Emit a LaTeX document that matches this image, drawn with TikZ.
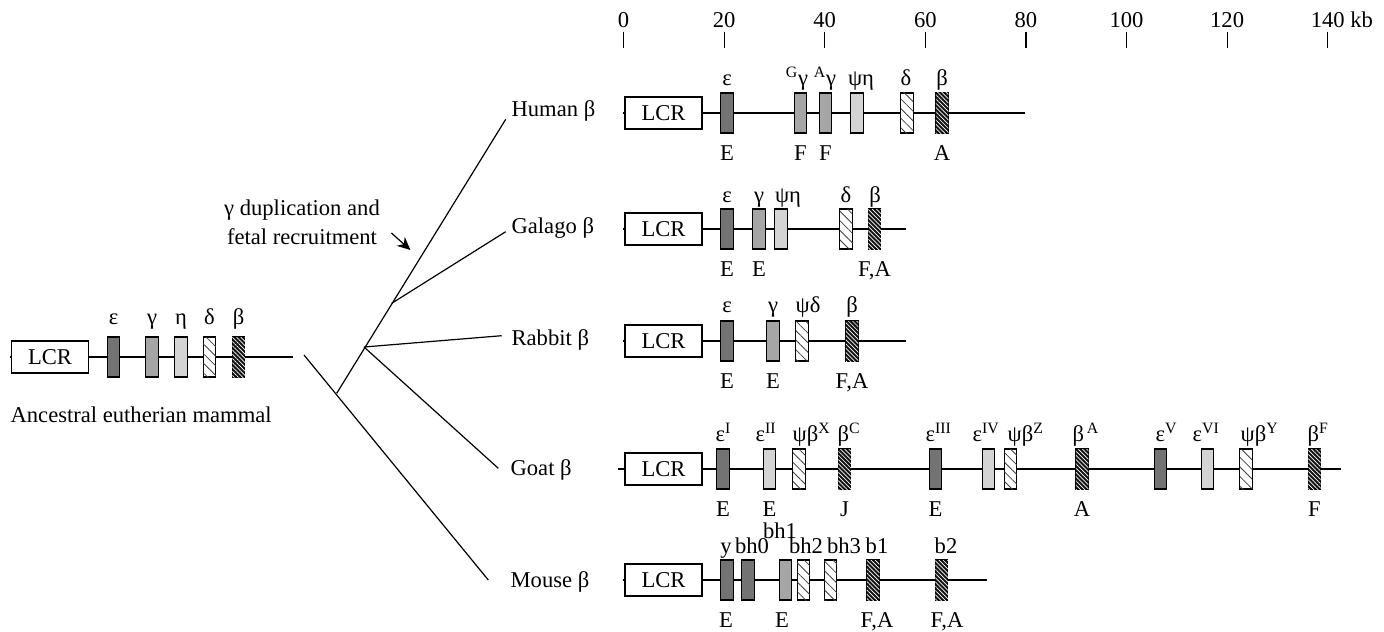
\documentclass[tikz,border=0pt]{standalone}
\usepackage{fontspec}
\setmainfont{Liberation Serif}
\usetikzlibrary{arrows.meta,patterns.meta}

\tikzset{
  gene/.style={draw, minimum width=6.25pt, minimum height=20pt, inner sep=0pt},
  dk/.style={gene, fill=black!55},
  md/.style={gene, fill=black!35},
  lt/.style={gene, fill=black!17},
  hat/.style={gene, fill=white, postaction={pattern={Lines[angle=-45,distance=3.4pt,line width=0.4pt]}, pattern color=black!75}},
  bt/.style={gene, fill=black!92, postaction={pattern={Lines[angle=-45,distance=1.5pt,line width=0.35pt]}, pattern color=white}},
  lcr/.style={draw, fill=white, minimum width=38.5pt, minimum height=16pt, inner sep=0pt},
  tl/.style={anchor=base, inner sep=0pt},
  tw/.style={anchor=base west, inner sep=0pt},
  sp/.style={anchor=base west, inner sep=0pt},
}

\begin{document}
\begin{tikzpicture}[x=0.5pt,y=-0.5pt,font=\fontsize{11.3}{14.5}\selectfont,line width=0.6pt]
\useasboundingbox (0,0) rectangle (1384,631);
% Scale
\foreach \k in {0,20,...,120} {
    \draw ({623.5+5.03*\k},32) -- ({623.5+5.03*\k},48);
    \node[tl] (k\k) at ({623.5+5.03*\k},28) {\k};
}
\draw ({623.5+5.03*140},32) -- ({623.5+5.03*140},48);
\node[tl] (k140) at ({623.5+5.03*140},28) {140\rlap{ kb}};

% Ancestral
\coordinate (as) at (10,357);
\coordinate (ae) at (293,357);
\draw (as) -- (ae);
\node[lcr] (alcr) at (50,357) {LCR};
\foreach \x/\s/\t [count=\i] in {113.5/dk/ε, 152/md/γ, 181/lt/η, 209.5/hat/δ, 238.5/bt/β} {
    \node[\s] (a\i) at (\x,357) {};
    \node[tl] (at\i) at (\x,324) {\t};
}
\node[sp] (anc) at (10,422) {Ancestral eutherian mammal};

% Human
\coordinate (hs) at (623,113);
\coordinate (he) at (1025,113);
\draw (hs) -- (he);
\node[lcr] (hlcr) at (663.5,113) {LCR};
\foreach \x/\s [count=\i] in {727/dk, 800.5/md, 825.5/md, 857/lt, 907/hat, 942/bt}
    \node[\s] (h\i) at (\x,113) {};
\foreach \x/\t [count=\i] in {727/ε, 797/\textsuperscript{G}γ, 825/\textsuperscript{A}γ, 861/ψη, 906/δ, 942/β}
    \node[tl] (ht\i) at (\x,85) {\t};
\foreach \i/\b in {1/E, 2/F, 3/F, 6/A}
    \path (h\i.center) ++(0,47) node[tl] (hb\i) {\b};

% Galago
\coordinate (gs) at (623,229);
\coordinate (ge) at (906,229);
\draw (gs) -- (ge);
\node[lcr] (glcr) at (663.5,229) {LCR};
\foreach \x/\s [count=\i] in {727/dk, 759/md, 781/lt, 846/hat, 874.5/bt}
    \node[\s] (g\i) at (\x,229) {};
\foreach \x/\t [count=\i] in {727/ε, 759/γ, 788/ψη, 846/δ, 875/β}
    \node[tl] (gt\i) at (\x,202) {\t};
\foreach \i/\b in {1/E, 2/E, 5/{F,A}}
    \path (g\i.center) ++(0,47) node[tl] (gb\i) {\b};

% Rabbit
\coordinate (rs) at (623,341);
\coordinate (re) at (906,341);
\draw (rs) -- (re);
\node[lcr] (rlcr) at (663.5,341) {LCR};
\foreach \x/\s [count=\i] in {727/dk, 773/md, 802/hat, 852/bt}
    \node[\s] (r\i) at (\x,341) {};
\foreach \x/\t [count=\i] in {727/ε, 773/γ, 808/ψδ, 852/β}
    \node[tl] (rt\i) at (\x,312) {\t};
\foreach \i/\b in {1/E, 2/E, 4/{F,A}}
    \path (r\i.center) ++(0,47) node[tl] (rb\i) {\b};

% Goat
\coordinate (os) at (618,469);
\coordinate (oe) at (1341,469);
\draw (os) -- (oe);
\node[lcr] (olcr) at (663.5,469) {LCR};
\foreach \x/\s [count=\i] in {723/dk, 769.5/lt, 799/hat, 844.5/bt, 935.5/dk, 988.5/lt,
        1010.5/hat, 1082/bt, 1160.5/dk, 1207.5/lt, 1246/hat, 1314.5/bt}
    \node[\s] (o\i) at (\x,469) {};
\foreach \x/\t [count=\i] in {715/ε\textsuperscript{I}, 755/ε\textsuperscript{II}, 792/ψβ\textsuperscript{X}, 837/β\textsuperscript{C},
        925/ε\textsuperscript{III}, 972/ε\textsuperscript{IV}, 1007/ψβ\textsuperscript{Z}, 1072/β\textsuperscript{\,A},
        1155/ε\textsuperscript{V}, 1192/ε\textsuperscript{VI}, 1240/ψβ\textsuperscript{Y}, 1307/β\textsuperscript{F}}
    \node[tw] (ot\i) at (\x,441) {\t};
\foreach \i/\b in {1/E, 2/E, 4/J, 5/E, 8/A, 12/F}
    \path (o\i.center) ++(0,47) node[tl] (ob\i) {\b};

% Mouse
\coordinate (ms) at (623,580);
\coordinate (me) at (987,580);
\draw (ms) -- (me);
\node[lcr] (mlcr) at (663.5,580) {LCR};
\foreach \x/\s [count=\i] in {727/dk, 748/dk, 785.5/md, 803.5/hat, 830.5/hat, 873/bt, 941.5/bt}
    \node[\s] (m\i) at (\x,580) {};
\foreach \x/\y/\t [count=\i] in {726/553/y, 752/553/bh0, 780/538/bh1, 806/553/bh2, 844/553/bh3, 877/553/b1, 946/553/b2}
    \node[tl] (mt\i) at (\x,\y) {\t};
\foreach \x/\b [count=\i] in {726/E, 782/E, 877/{F,A}, 947/{F,A}}
    \node[tl] (mb\i) at (\x,627) {\b};

% Tree
\node[sp] (human) at (511,117) {Human β};
\node[sp] (galago) at (511,233) {Galago β};
\node[sp] (rabbit) at (511,345) {Rabbit β};
\node[sp] (goat) at (510,475) {Goat β};
\node[sp] (mouse) at (510,587) {Mouse β};
\coordinate (root) at (336.7,393.3);
\coordinate (nrg) at (364,347);
\coordinate (ngal) at (391.7,303.3);
\coordinate (mtop) at (304,355);
\coordinate (thum) at (505.7,119.3);
\coordinate (tgal) at (505.7,231.7);
\coordinate (trab) at (501.7,335.7);
\coordinate (tgoat) at (498.3,468.3);
\coordinate (tmouse) at (488.3,580);
\draw (mtop) -- (tmouse);
\draw (root) -- (thum);
\draw (ngal) -- (tgal);
\draw (nrg) -- (trab);
\draw (nrg) -- (tgoat);

% Duplication
\node[align=center, inner sep=0pt] (dup) at (302,222) {γ duplication and\\fetal recruitment};
\draw[-{Stealth[length=6.5pt,width=6pt]}] (dup.east) ++(11,11) -- ++(19,17);
\end{tikzpicture}
\end{document}
